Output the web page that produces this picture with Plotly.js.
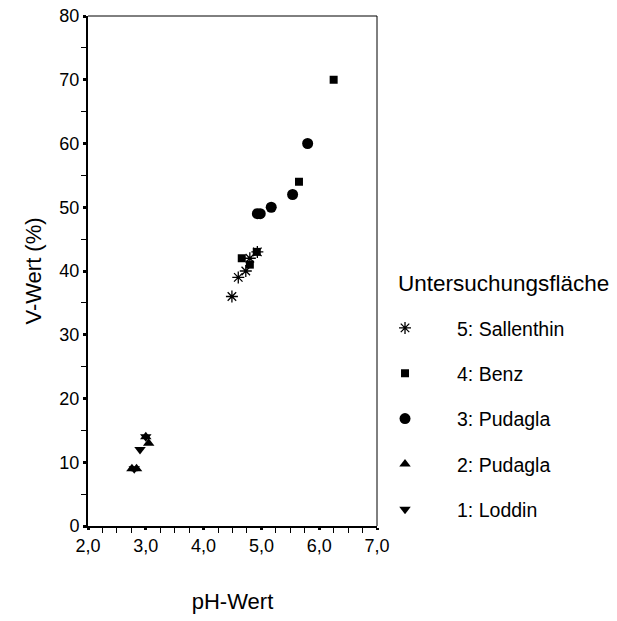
<!DOCTYPE html>
<html>
<head>
<meta charset="utf-8">
<script src="https://cdn.plot.ly/plotly-3.0.1.min.js"></script>
<style>html,body{margin:0;padding:0;background:#fff;}#chart{width:617px;height:621px;}</style>
</head>
<body>
<div id="chart"></div>
<script>
// Data (pH-Wert vs V-Wert %)
const loddinPH = [2.9, 3.0, 2.8];
const loddinV = [12, 14, 9];
const pudagla2PH = [3.05, 3.0, 2.76, 2.84];
const pudagla2V = [13, 14, 9, 9];
const pudagla3PH = [4.93, 4.98, 5.17, 5.54, 5.8];
const pudagla3V = [49, 49, 50, 52, 60];
const benzPH = [4.66, 4.8, 4.92, 5.65, 6.25];
const benzV = [42, 41, 43, 54, 70];
const sallenthinPH = [4.49, 4.6, 4.73, 4.8, 4.93];
const sallenthinV = [36, 39, 40, 42, 43];
const seriesNames = ["1: Loddin", "2: Pudagla", "3: Pudagla", "4: Benz", "5: Sallenthin"];
const legendTitle = "Untersuchungsfläche";
const xTitle = "pH-Wert";
const yTitle = "V-Wert (%)";

const black = "#000";
function mk(x, y, name, symbol, size, grp) {
  return {
    type: "scatter", mode: "markers", x: x, y: y, name: name,
    legendgroup: grp,
    marker: {symbol: symbol, size: size, color: black, line: {color: black, width: symbol.indexOf("open") >= 0 ? 1.3 : 0}},
    hoverinfo: "x+y"
  };
}
const data = [
  mk(sallenthinPH, sallenthinV, seriesNames[4], "asterisk-open", 10, "g5"),
  mk(benzPH, benzV, seriesNames[3], "square", 8, "g4"),
  mk(pudagla3PH, pudagla3V, seriesNames[2], "circle", 11, "g3"),
  mk(pudagla2PH, pudagla2V, seriesNames[1], "triangle-up", 10, "g2"),
  mk(loddinPH, loddinV, seriesNames[0], "triangle-down", 10, "g1")
];

const font = {family: "Arial, 'Liberation Sans', sans-serif", color: black};
const layout = {
  width: 617, height: 621,
  margin: {l: 88, r: 240, t: 16, b: 95},
  paper_bgcolor: "#fff", plot_bgcolor: "#fff",
  font: Object.assign({size: 18}, font),
  showlegend: true,
  legend: {
    x: 0.917, xanchor: "left", y: 0.426, yanchor: "top",
    traceorder: "grouped", tracegroupgap: 17,
    itemwidth: 94,
    font: Object.assign({size: 19.5}, font),
    bgcolor: "rgba(0,0,0,0)"
  },
  xaxis: {
    range: [2, 7], dtick: 1, tick0: 2, tickformat: ".1f",
    showgrid: false, zeroline: false,
    showline: true, linecolor: black, linewidth: 2,
    ticks: "outside", ticklen: 2, tickwidth: 3, tickcolor: black,
    minor: {dtick: 0.25, ticks: "outside", ticklen: 5, tickwidth: 1, tickcolor: black, showgrid: false},
    tickfont: Object.assign({size: 18}, font),
    title: {text: xTitle, font: Object.assign({size: 22}, font), standoff: 39},
    fixedrange: true
  },
  yaxis: {
    range: [0, 80], dtick: 10, tick0: 0,
    showgrid: false, zeroline: false,
    showline: true, linecolor: black, linewidth: 2,
    ticks: "outside", ticklen: 3, tickwidth: 3, tickcolor: black,
    minor: {dtick: 5, ticks: "outside", ticklen: 5, tickwidth: 1, tickcolor: black, showgrid: false},
    tickfont: Object.assign({size: 18}, font),
    title: {text: yTitle, font: Object.assign({size: 22}, font), standoff: 12},
    fixedrange: true
  },
  separators: ",.",
  shapes: [
    {type: "line", xref: "paper", yref: "paper", x0: 0, x1: 1, y0: 1, y1: 1, line: {color: black, width: 1}},
    {type: "line", xref: "paper", yref: "paper", x0: 1, x1: 1, y0: 0, y1: 1, line: {color: black, width: 1}}
  ],
  annotations: [
    {text: legendTitle, xref: "paper", yref: "paper", x: 1.066, y: 0.476, xanchor: "left", yanchor: "middle",
     showarrow: false, font: Object.assign({size: 22.5}, font)}
  ]
};
Plotly.newPlot("chart", data, layout, {displayModeBar: false, staticPlot: true});
</script>
</body>
</html>
